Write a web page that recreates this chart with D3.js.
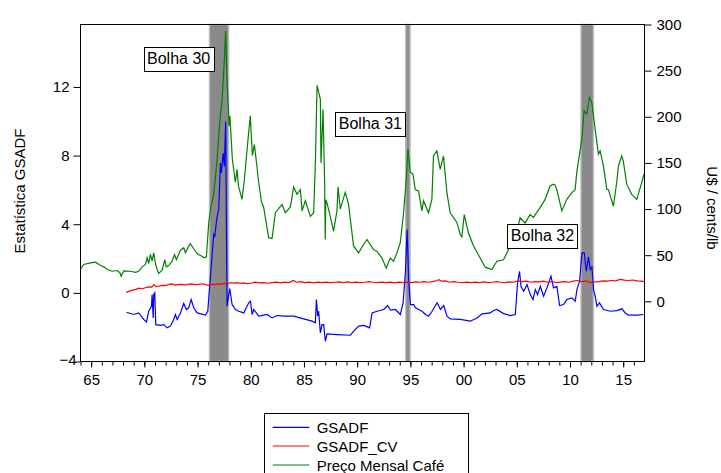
<!DOCTYPE html>
<html><head><meta charset="utf-8">
<script src="https://cdn.jsdelivr.net/npm/d3@7"></script>
<style>
body{margin:0;background:#fff;}
text{font-family:"Liberation Sans",Arial,sans-serif;}
</style></head>
<body><svg id="c" width="721" height="473"></svg>
<script>
// ---------- DATA ----------
const priceDates = [1964.0,1964.3,1964.94,1965.41,1965.88,1966.19,1966.51,1966.98,1967.45,1967.7,1967.82,1968.07,1968.69,1969.16,1969.47,1969.79,1970.10,1970.26,1970.41,1970.57,1970.73,1970.88,1971.04,1971.20,1971.35,1971.67,1971.92,1972.05,1972.29,1972.61,1972.83,1973.01,1973.39,1973.70,1973.86,1974.17,1974.33,1974.64,1974.96,1975.27,1975.64,1975.83,1976.05,1976.27,1976.52,1976.84,1977.08,1977.31,1977.52,1977.64,1977.77,1977.90,1977.95,1978.04,1978.27,1978.55,1978.71,1978.84,1979.18,1979.40,1979.77,1979.96,1980.15,1980.34,1980.59,1980.71,1981.00,1981.21,1981.68,1982.00,1982.31,1982.94,1983.25,1983.72,1984.03,1984.35,1984.66,1984.82,1985.13,1985.60,1985.91,1986.07,1986.23,1986.54,1986.60,1986.79,1986.94,1987.00,1987.05,1987.16,1987.47,1987.78,1988.10,1988.20,1988.41,1988.88,1989.19,1989.66,1990.13,1990.60,1990.92,1991.54,1991.86,1992.33,1992.73,1993.11,1993.42,1993.74,1994.05,1994.36,1994.61,1994.77,1994.99,1995.24,1995.46,1995.77,1996.08,1996.23,1996.70,1997.02,1997.17,1997.49,1997.80,1998.11,1998.43,1998.74,1999.37,1999.70,1999.84,2000.06,2000.46,2000.93,2001.56,2002.03,2002.66,2003.13,2003.75,2004.38,2004.85,2005.31,2005.78,2006.25,2006.56,2007.19,2007.66,2008.13,2008.44,2008.60,2008.76,2009.23,2009.70,2010.17,2010.48,2010.64,2011.11,2011.32,2011.58,2011.82,2012.05,2012.36,2012.67,2012.83,2013.14,2013.46,2013.61,2014.08,2014.39,2014.55,2014.86,2015.01,2015.33,2015.80,2015.95,2016.27,2016.74,2016.95];
const priceValues = [35,40,41.7,42.4,38.8,37.4,34.5,32.6,33.4,31,27.2,33,32.6,31.5,32.6,37.4,40,47.2,41,50.8,43.5,52.6,41,34.5,30.1,33.7,45.3,37.4,38.8,43.5,50.8,45.3,55.4,58,52.6,59.8,62.4,57,51.8,49.7,47.2,48.3,85.2,103.3,116,154,193.9,219,262.7,292.8,240,208,190,201,154,129,143,125,110.5,132,179,201,158,170,145,132,108,102,69,68,96,105,96,102,124,116,121,98,109,92,96,150,234,219,150,208,130,67,110,107,92,76,98,124,100,118,105,60,52.6,61.6,67,56,54,47,36,47,43.5,52.6,63.5,96,132,165,140,138,121,119.6,98,109,96,110.5,157.6,163,143,157.6,118,96,85.5,72,70,94,74,60,47,37,34.5,43.5,45,60,67,90.6,85,94,91,101.5,110.5,125,127,126,121,98,110.5,117.8,121,140,175.8,206.5,203,221,215.6,186.6,159.5,163,146.7,121.4,121,103,129,146.7,157.6,152,127,116,114,110.5,128.7,137.7];

const gsadfDates = [1968.32,1969.0,1969.47,1969.94,1970.2,1970.41,1970.67,1970.73,1970.83,1970.88,1970.98,1971.07,1971.51,1971.82,1972.14,1972.45,1972.76,1972.92,1973.08,1973.39,1973.70,1973.95,1974.17,1974.40,1974.64,1974.96,1975.74,1975.96,1976.21,1976.52,1976.61,1976.84,1976.99,1977.15,1977.24,1977.40,1977.52,1977.64,1977.77,1978.02,1978.25,1978.56,1978.87,1979.34,1979.81,1979.97,1980.13,1980.28,1980.75,1981.54,1982.00,1982.47,1983.09,1984.03,1984.97,1985.76,1986.07,1986.17,1986.29,1986.38,1986.54,1986.70,1986.85,1987.01,1987.17,1988.11,1989.36,1989.67,1990.14,1990.61,1991.17,1991.40,1991.87,1992.49,1992.87,1993.12,1993.59,1994.06,1994.31,1994.53,1994.69,1994.84,1995.0,1995.31,1995.47,1995.78,1996.10,1996.41,1996.72,1997.04,1997.51,1997.82,1998.13,1998.44,1998.75,1999.69,2000.63,2001.26,2001.73,2002.51,2002.82,2003.13,2003.76,2004.39,2004.86,2005.07,2005.26,2005.39,2005.64,2005.96,2006.27,2006.52,2006.74,2006.95,2007.21,2007.52,2007.83,2008.21,2008.45,2008.77,2009.02,2009.39,2009.71,2010.18,2010.49,2010.65,2010.90,2011.12,2011.34,2011.53,2011.74,2011.90,2012.06,2012.21,2012.37,2012.53,2012.77,2013.15,2013.78,2014.41,2014.88,2015.19,2015.50,2016.29,2016.91];
const gsadfValues = [-1.13,-1.26,-1.17,-1.55,-1.7,-1.07,-0.78,-0.1,-1.46,-0.1,0.0,-1.85,-1.89,-1.85,-2.04,-1.94,-1.55,-1.26,-1.55,-1.17,-0.62,-0.97,-0.87,-0.39,-0.87,-1.17,-1.3,-1.07,0.97,3.4,3.3,4.46,4.85,7.57,6.99,8.15,7.37,9.99,-0.78,0.25,-0.68,-0.97,-1.07,-1.17,-0.58,-0.49,-1.26,-0.97,-1.36,-1.26,-1.46,-1.32,-1.36,-1.36,-1.52,-1.65,-1.75,-0.39,-1.36,-1.07,-2.33,-1.85,-1.85,-2.82,-2.39,-2.43,-2.47,-2.23,-1.94,-1.9,-2.04,-1.17,-1.07,-0.97,-0.74,-1.01,-0.97,-1.26,-0.58,1.16,3.69,0.77,-0.68,-0.68,-0.87,-0.97,-1.07,-1.26,-1.36,-1.07,-0.58,-0.97,-0.74,-1.36,-1.52,-1.55,-1.65,-1.46,-1.22,-1.17,-1.03,-0.97,-1.21,-1.32,-1.26,0.58,1.26,0.38,0.09,0.48,-0.1,-0.39,0.19,-0.1,0.38,-0.2,0.29,0.97,0.29,0.38,-0.74,-0.68,-0.39,-0.29,-0.49,0.19,0.68,2.33,2.33,1.26,2.1,1.36,1.51,0.19,-0.2,-0.78,-0.58,-0.97,-1.07,-1.03,-0.93,-1.17,-1.3,-1.3,-1.26];

const cvDates = [1968.3,1968.6,1968.9,1969.2,1969.5,1969.8,1970.1,1970.4,1970.7,1970.9,1971.1,1971.4,1971.7,1972.0,1972.3,1972.6,1972.9,1973.2,1973.5,1973.8,1974.1,1974.4,1974.8,1975.1,1975.4,1975.7,1976.0,1976.3,1976.6,1976.9,1977.2,1977.5,1977.8,1978.1,1978.4,1978.7,1979.0,1979.3,1979.6,1980.0,1980.4,1980.8,1981.2,1981.6,1982.0,1982.4,1982.8,1983.2,1983.6,1984.0,1984.3,1984.7,1985.1,1985.5,1985.9,1986.3,1986.7,1987.1,1987.5,1987.9,1988.3,1988.7,1989.1,1989.5,1989.9,1990.3,1990.7,1991.1,1991.5,1991.9,1992.3,1992.7,1993.1,1993.5,1993.9,1994.3,1994.7,1995.1,1995.5,1995.9,1996.3,1996.7,1997.1,1997.5,1997.7,1997.9,1998.3,1998.7,1999.1,1999.5,1999.9,2000.3,2000.7,2001.1,2001.5,2001.9,2002.3,2002.7,2003.1,2003.5,2003.9,2004.3,2004.7,2005.1,2005.5,2005.9,2006.3,2006.7,2007.1,2007.5,2007.9,2008.3,2008.7,2009.1,2009.5,2009.9,2010.3,2010.7,2011.1,2011.5,2011.9,2012.3,2012.7,2013.1,2013.5,2013.9,2014.3,2014.7,2015.1,2015.5,2015.9,2016.3,2016.7,2016.95];
const cvValues = [0.03,0.1,0.16,0.2,0.27,0.24,0.3,0.35,0.33,0.48,0.36,0.4,0.44,0.42,0.5,0.52,0.45,0.48,0.5,0.47,0.5,0.52,0.48,0.5,0.53,0.5,0.44,0.5,0.48,0.52,0.5,0.55,0.52,0.6,0.57,0.6,0.55,0.58,0.54,0.56,0.62,0.58,0.6,0.56,0.6,0.63,0.58,0.62,0.6,0.72,0.62,0.65,0.6,0.62,0.58,0.62,0.6,0.63,0.6,0.62,0.64,0.6,0.64,0.6,0.62,0.6,0.62,0.65,0.62,0.6,0.63,0.6,0.62,0.58,0.62,0.6,0.63,0.6,0.64,0.62,0.66,0.62,0.66,0.72,0.77,0.68,0.7,0.62,0.65,0.62,0.6,0.63,0.6,0.62,0.6,0.64,0.6,0.62,0.65,0.62,0.6,0.64,0.62,0.7,0.65,0.68,0.62,0.66,0.64,0.68,0.62,0.66,0.6,0.63,0.65,0.62,0.68,0.72,0.66,0.7,0.6,0.64,0.66,0.7,0.68,0.72,0.7,0.78,0.74,0.72,0.75,0.7,0.68,0.66];

const bubbleNames = ["Bolha 30","Bolha 31","Bolha 32"];
const bubbleStart = [1976.12,1994.56,2011.03];
const bubbleEnd   = [1977.92,1994.97,2012.2];

const leftTicks = [-4,0,4,8,12];
const rightTicks = [0,50,100,150,200,250,300];
const xMajorTicks = [1965,1970,1975,1980,1985,1990,1995,2000,2005,2010,2015];
const xMajorLabels = ["65","70","75","80","85","90","95","00","05","10","15"];
const seriesNames = ["GSADF","GSADF_CV","Preço Mensal Café"];
const seriesColors = ["#0000ff","#ff0000","#008000"];

// ---------- CHART ----------
const svg = d3.select("#c");
const L=80.5, R=644.5, T=24.5, B=361.5;
const x = d3.scaleLinear().domain([1964,2017]).range([L,R]);
const yL = d3.scaleLinear().domain([-4,15.64]).range([B,T]);
const yR = d3.scaleLinear().domain([-65.2,300]).range([B,T]);

// bubble bands
bubbleNames.forEach((n,i)=>{
  svg.append("rect").attr("x",x(bubbleStart[i])).attr("y",T)
    .attr("width",Math.max(1,x(bubbleEnd[i])-x(bubbleStart[i]))).attr("height",B-T)
    .attr("fill","#8a8a8a").attr("stroke","#bdbdbd").attr("stroke-width",1.4);
});

const mk = (dates,vals,ys)=>d3.line().x((d,i)=>x(dates[i])).y((d,i)=>ys(vals[i]))(vals);
svg.append("path").attr("d",mk(gsadfDates,gsadfValues,yL)).attr("fill","none").attr("stroke",seriesColors[0]).attr("stroke-width",1.2);
svg.append("path").attr("d",mk(cvDates,cvValues,yL)).attr("fill","none").attr("stroke",seriesColors[1]).attr("stroke-width",1.2);
svg.append("path").attr("d",mk(priceDates,priceValues,yR)).attr("fill","none").attr("stroke",seriesColors[2]).attr("stroke-width",1.2);

// frame
svg.append("rect").attr("x",L).attr("y",T).attr("width",R-L).attr("height",B-T)
  .attr("fill","none").attr("stroke","#000").attr("stroke-width",1);

// axes
const fs = "15px";
const gl = svg.append("g").attr("transform",`translate(${L},0)`)
  .call(d3.axisLeft(yL).tickValues(leftTicks).tickSize(7).tickPadding(4).tickFormat(d3.format("d")));
const gr = svg.append("g").attr("transform",`translate(${R},0)`)
  .call(d3.axisRight(yR).tickValues(rightTicks).tickSize(7).tickPadding(5));
const gb = svg.append("g").attr("transform",`translate(0,${B})`)
  .call(d3.axisBottom(x).tickValues(xMajorTicks).tickSize(6).tickPadding(7).tickFormat((d,i)=>xMajorLabels[i]));
const gm = svg.append("g").attr("transform",`translate(0,${B})`)
  .call(d3.axisBottom(x).tickValues(d3.range(1964,2017)).tickSize(4).tickFormat(""));
[gl,gr,gb,gm].forEach(g=>{
  g.select(".domain").remove();
  g.selectAll("text").attr("font-size",fs).attr("fill","#000").attr("font-family","Liberation Sans, Arial, sans-serif");
  g.selectAll("line").attr("stroke","#000");
});
gl.selectAll(".tick").filter(d=>d===-4).select("text").attr("dx",7).attr("dy","0.2em");

// axis titles
svg.append("text").attr("transform",`translate(25,191) rotate(-90)`).attr("text-anchor","middle")
  .attr("font-size","15px").text("Estatística GSADF");
svg.append("text").attr("transform",`translate(707,208) rotate(90)`).attr("text-anchor","middle")
  .attr("font-size","15px").text("U$ / cents/lb");

// bubble labels (anchored in data coordinates)
const labelPos = [[1973.22,13.67],[1991.24,9.87],[2007.41,3.33]];
bubbleNames.forEach((n,i)=>{
  const cx=x(labelPos[i][0]), cy=yL(labelPos[i][1]);
  svg.append("rect").attr("x",Math.round(cx-35)+0.5).attr("y",Math.round(cy-11.7)+0.5)
    .attr("width",70).attr("height",24).attr("fill","#fff").attr("stroke","#000").attr("stroke-width",1);
  svg.append("text").attr("x",cx).attr("y",cy+5.5).attr("text-anchor","middle")
    .attr("font-size","16px").text(n);
});

// legend
svg.append("rect").attr("x",264.5).attr("y",413.5).attr("width",204).attr("height",80)
  .attr("fill","#fff").attr("stroke","#000").attr("stroke-width",1);
const ly=[427.3,446,465];
seriesNames.forEach((n,i)=>{
  svg.append("line").attr("x1",272.7).attr("x2",309.3).attr("y1",ly[i]).attr("y2",ly[i])
    .attr("stroke",seriesColors[i]).attr("stroke-width",1.2);
  svg.append("text").attr("x",316.7).attr("y",ly[i]+5.5).attr("font-size","15px").text(n);
});
</script></body></html>
